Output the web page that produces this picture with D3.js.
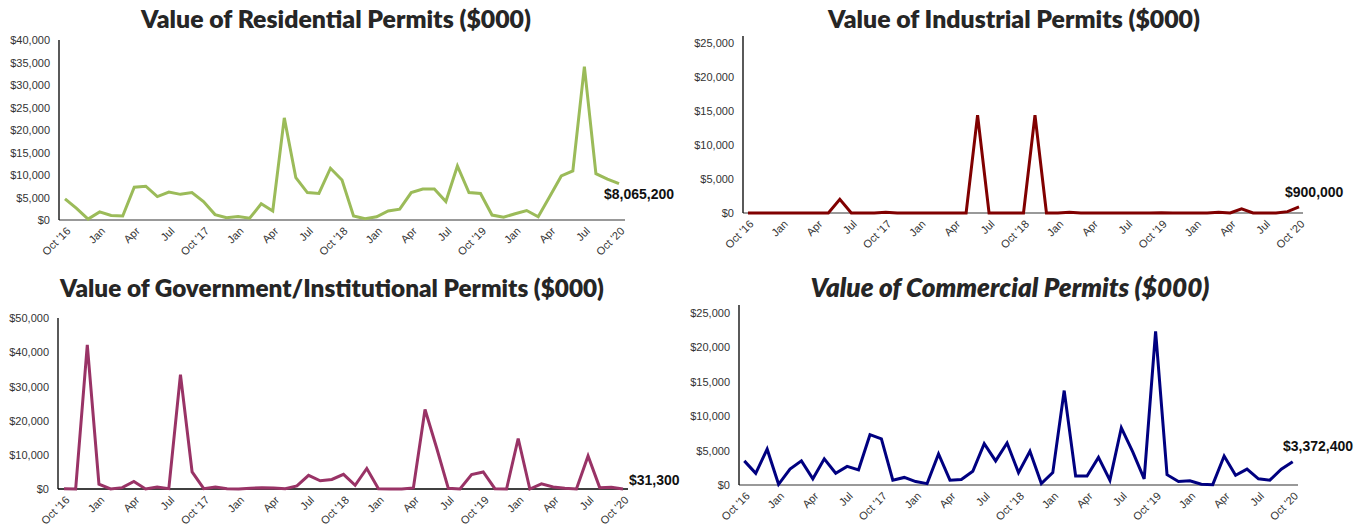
<!DOCTYPE html>
<html>
<head>
<meta charset="utf-8">
<script src="https://cdn.jsdelivr.net/npm/d3@7/dist/d3.min.js"></script>
<style>
  html, body { margin: 0; padding: 0; background: #fff; }
  svg { display: block; }
  .tick text { font-family: Arial, "Liberation Sans", sans-serif; font-size: 11px; fill: #333; }
  .title { font-family: Lato, "Open Sans", sans-serif; font-weight: 800; fill: #262626; }
  .endlabel { font-family: Arial, "Liberation Sans", sans-serif; font-weight: bold; font-size: 14px; fill: #111; }
</style>
</head>
<body>
<svg id="chart" width="1362" height="527"></svg>
<script>
// Months Oct 2016 .. Oct 2020
const months = [
  "2016-10","2016-11","2016-12",
  "2017-01","2017-02","2017-03","2017-04","2017-05","2017-06","2017-07","2017-08","2017-09","2017-10","2017-11","2017-12",
  "2018-01","2018-02","2018-03","2018-04","2018-05","2018-06","2018-07","2018-08","2018-09","2018-10","2018-11","2018-12",
  "2019-01","2019-02","2019-03","2019-04","2019-05","2019-06","2019-07","2019-08","2019-09","2019-10","2019-11","2019-12",
  "2020-01","2020-02","2020-03","2020-04","2020-05","2020-06","2020-07","2020-08","2020-09","2020-10"
];
const tickMonths = ["2016-10","2017-01","2017-04","2017-07","2017-10","2018-01","2018-04","2018-07","2018-10",
  "2019-01","2019-04","2019-07","2019-10","2020-01","2020-04","2020-07","2020-10"];
const tickLabels = ["Oct '16","Jan","Apr","Jul","Oct '17","Jan","Apr","Jul","Oct '18",
  "Jan","Apr","Jul","Oct '19","Jan","Apr","Jul","Oct '20"];

// values in $000
const residential = [4700,2600,200, 1800,1000,900,7300,7500,5200,6200,5700,6100,4100,1200,500,
  800,400,3600,2000,22700,9400,6100,5900,11500,8900,900,300,
  700,2000,2400,6100,6900,6900,4100,12000,6100,5900,1100,600,
  1400,2100,700,5200,9800,10900,34100,10300,9100,8065.2];
const industrial = [0,0,0, 0,0,0,0,0,2000,0,0,0,100,0,0,
  0,0,0,0,0,14400,0,0,0,0,14400,0,
  0,100,0,0,0,0,0,0,0,50,0,0,
  0,0,100,0,600,0,0,0,200,900];
const government = [100,0,42200, 1400,0,400,2200,0,600,100,33500,5000,100,600,100,
  0,200,400,300,100,900,4000,2400,2800,4300,1100,6000,
  100,0,0,300,23300,12000,200,0,4200,5000,100,0,
  14800,0,1500,600,200,0,9700,400,500,31.3];
const commercial = [3500,1700,5200, 100,2300,3500,900,3800,1700,2700,2200,7300,6700,700,1100,
  500,200,4500,700,800,2000,6000,3500,6100,1800,4900,200,
  1800,13700,1300,1300,4000,700,8300,4800,900,22300,1500,500,
  600,100,50,4200,1400,2300,900,700,2300,3372.4];

const titles = ["Value of Residential Permits ($000)", "Value of Industrial Permits ($000)",
  "Value of Government/Institutional Permits ($000)", "Value of Commercial Permits ($000)"];
const endLabels = ["$8,065,200", "$900,000", "$31,300", "$3,372,400"];
const yMax = [40000, 25000, 50000, 25000];
const yStep = [5000, 5000, 10000, 5000];
const colors = ["#9bbb59", "#800000", "#993366", "#000080"];

const panels = [
  {data: residential, ax: 59, x0: 65, x1: 619, y0: 220, yTop: 40, axTop: 40, baseEnd: 625, baseColor: "#777",
   tx: 336, ty: 28, italic: false, tw: 390, lx: 604, ly: 199},
  {data: industrial, ax: 743, x0: 748, x1: 1299, y0: 213, yTop: 43, axTop: 36, baseEnd: 1303, baseColor: "#777",
   tx: 1014, ty: 28, italic: false, tw: 372, lx: 1285, ly: 197},
  {data: government, ax: 58, x0: 64, x1: 623, y0: 489, yTop: 318.3, axTop: 318, baseEnd: 628, baseColor: "#000",
   tx: 332, ty: 297, italic: false, tw: 544, lx: 629, ly: 485},
  {data: commercial, ax: 739, x0: 744.3, x1: 1292.7, y0: 485, yTop: 312.7, axTop: 305, baseEnd: 1298, baseColor: "#777",
   tx: 1010, ty: 297, italic: true, tw: 399, lx: 1283, ly: 451}
];

const svg = d3.select("#chart");

panels.forEach((p, i) => {
  const g = svg.append("g");
  const x = d3.scalePoint().domain(months).range([p.x0, p.x1]);
  const y = d3.scaleLinear().domain([0, yMax[i]]).range([p.y0, p.yTop]);

  // title
  const t = g.append("text").attr("class", "title")
    .attr("x", p.tx).attr("y", p.ty).attr("text-anchor", "middle")
    .style("font-size", "22px")
    .style("font-style", p.italic ? "italic" : "normal")
    .text(titles[i]);
  const w = t.node().getComputedTextLength();
  t.style("font-size", (22 * p.tw / w).toFixed(2) + "px");

  // y axis ticks
  const yAxis = d3.axisLeft(y).tickValues(d3.range(0, yMax[i] + 1, yStep[i]))
    .tickSize(0).tickPadding(9).tickFormat(d => "$" + d3.format(",")(d));
  g.append("g").attr("transform", `translate(${p.ax},0)`).call(yAxis)
    .call(s => s.select(".domain").remove());

  // x axis ticks
  const xAxis = d3.axisBottom(x).tickValues(tickMonths).tickSize(0)
    .tickFormat((d, k) => tickLabels[k]);
  const xg = g.append("g").attr("transform", `translate(0,${p.y0})`).call(xAxis)
    .call(s => s.select(".domain").remove());
  xg.selectAll(".tick text")
    .attr("text-anchor", "end")
    .attr("transform", "translate(3,9) rotate(-45)")
    .attr("x", 0).attr("y", 0).attr("dy", "0.35em");

  // baseline and y axis line
  g.append("line").attr("x1", p.ax).attr("x2", p.baseEnd)
    .attr("y1", y(0)).attr("y2", y(0))
    .attr("stroke", p.baseColor).attr("stroke-width", 1.3);
  g.append("line").attr("x1", p.ax).attr("x2", p.ax)
    .attr("y1", p.axTop).attr("y2", y(0))
    .attr("stroke", "#000").attr("stroke-width", 1.3);

  // line
  const line = d3.line().x((d, k) => x(months[k])).y(d => y(d));
  g.append("path").datum(p.data)
    .attr("fill", "none").attr("stroke", colors[i])
    .attr("stroke-width", 3).attr("stroke-linejoin", "miter")
    .attr("d", line);

  // end label
  g.append("text").attr("class", "endlabel")
    .attr("x", p.lx).attr("y", p.ly).text(endLabels[i]);
});
</script>
</body>
</html>
